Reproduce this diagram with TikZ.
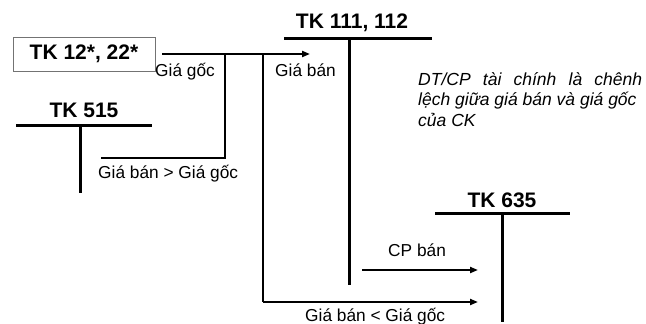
\documentclass[tikz,border=0pt]{standalone}
\usepackage{fontspec}
\setmainfont{Liberation Sans}
\usetikzlibrary{arrows.meta}
\tikzset{
  acct/.style={font=\bfseries\fontsize{21}{24}\selectfont, inner sep=0pt, anchor=base},
  lbl/.style={font=\fontsize{17.3}{20}\selectfont, inner sep=0pt, anchor=base west},
  tbar/.style={line width=3pt},
  flow/.style={line width=2.6pt},
  arr/.style={line width=2pt, -{Triangle[length=8pt,width=6pt]}}
}

\begin{document}
\begin{tikzpicture}[x=1pt,y=-1pt]
\useasboundingbox (0,0) rectangle (646,324);
% source box
\node[draw=black!55, line width=0.8pt, minimum width=142pt, minimum height=34pt, inner sep=0pt,
  font=\bfseries\fontsize{21}{24}\selectfont] (tkgoc) at (84,54) {TK 12*, 22*};
% T accounts
\node[acct] (tk515) at (84,117) {TK 515};
\draw[tbar] (16,125) -- (152,125);
\draw[tbar] (80,125) -- (80,193);
\node[acct] (tk111) at (352,28) {TK 111, 112};
\draw[tbar] (284,38) -- (432,38);
\draw[tbar] (349,38) -- (349,285);
\node[acct] (tk635) at (502,207) {TK 635};
\draw[tbar] (435,213) -- (570,213);
\draw[tbar] (502,213) -- (502,322);
% connectors
\coordinate (ban) at (310,54);
\coordinate (k1) at (225,54);
\coordinate (k1b) at (225,158);
\coordinate (lai) at (101,158);
\coordinate (k2) at (263,54);
\coordinate (k2b) at (263,302);
\coordinate (lo) at (478,302);
\coordinate (cp) at (362,270);
\coordinate (cpend) at (478,270);
\draw[arr] ([xshift=7pt]tkgoc.east) -- (ban);
\draw[flow] (k1) -- (k1b) -- (lai);
\draw[flow] (k2) -- (k2b);
\draw[arr] (k2b) -- (lo);
\draw[arr] (cp) -- (cpend);
% labels
\node[lbl] (goc) at (155,76) {Giá gốc};
\node[lbl] (gban) at (275,76) {Giá bán};
\node[lbl] (lbllai) at (98,178) {Giá bán > Giá gốc};
\node[lbl] (lblcp) at (388,256) {CP bán};
\node[lbl] (lbllo) at (305,321) {Giá bán < Giá gốc};
\node[anchor=north west, inner sep=0pt, align=left,
  font=\itshape\fontsize{17.5}{20.5}\selectfont] (note) at (418,72)
  {\hbox to 224pt{DT/CP\hfill tài\hfill chính\hfill là\hfill chênh}\\
   lệch giữa giá bán và giá gốc\\
   của CK};
\end{tikzpicture}
\end{document}
